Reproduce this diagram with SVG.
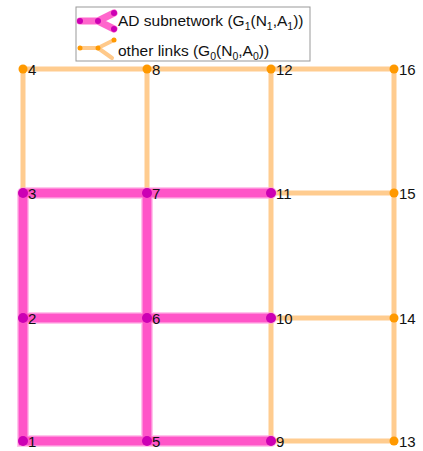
<svg xmlns="http://www.w3.org/2000/svg" width="423" height="451" viewBox="0 0 423 451">
<style>
.pk{stroke:#ff55c8;stroke-width:9;stroke-linecap:round;fill:none}
.pkh{stroke:#ff9ee0;stroke-width:12;stroke-linecap:round;fill:none;opacity:0.6}
.or{stroke:#ffcc8f;stroke-width:5;stroke-linecap:round;fill:none}
.pn{fill:#cc00b4}
.on{fill:#ff9900}
.lb{font-family:"Liberation Sans",Arial,sans-serif;font-size:15px;fill:#111}
.lg{font-family:"Liberation Sans",Arial,sans-serif;font-size:15.5px;fill:#111}
.sub{font-size:10.5px}
</style>
<rect width="423" height="451" fill="#fff"/>
<g id="connectors">
<g class="or">
<path d="M23 193V69H271M147 193V69M271 69H394V441H271V193M271 193H394M271 318H394M271 69V193"/>
</g>
<g class="pkh">
<path d="M23 193V441H271M147 193V441M23 193H271M23 318H271"/>
</g>
<g class="pk">
<path d="M23 193V441H271M147 193V441M23 193H271M23 318H271"/>
</g>
</g>
<g id="legend">
<rect x="76" y="7" width="234" height="54" fill="#fff" stroke="#999" stroke-width="1"/>
<path d="M80 21H98L114 13M98 21L114 29" stroke="#ff66cc" stroke-width="7" stroke-linecap="round" stroke-linejoin="round" fill="none"/>
<circle cx="80" cy="21" r="3" class="pn"/><circle cx="98" cy="21" r="3" class="pn"/><circle cx="114" cy="13" r="3" class="pn"/><circle cx="114" cy="29" r="3" class="pn"/>
<path d="M80 48H98L114 40M98 48L112 58" stroke="#ffc98a" stroke-width="4" stroke-linecap="round" stroke-linejoin="round" fill="none"/>
<circle cx="80" cy="48" r="2.5" class="on"/><circle cx="98" cy="48" r="2.5" class="on"/><circle cx="114" cy="40" r="2.5" class="on"/>
<text class="lg" x="118" y="26">AD subnetwork (G<tspan class="sub" dy="4">1</tspan><tspan dy="-4">(N</tspan><tspan class="sub" dy="4">1</tspan><tspan dy="-4">,A</tspan><tspan class="sub" dy="4">1</tspan><tspan dy="-4">))</tspan></text>
<text class="lg" x="118" y="56">other links (G<tspan class="sub" dy="4">0</tspan><tspan dy="-4">(N</tspan><tspan class="sub" dy="4">0</tspan><tspan dy="-4">,A</tspan><tspan class="sub" dy="4">0</tspan><tspan dy="-4">))</tspan></text>
</g>
<g id="n1"><circle cx="23" cy="441" r="5" class="pn"/><text class="lb" x="28" y="447">1</text></g>
<g id="n2"><circle cx="23" cy="318" r="5" class="pn"/><text class="lb" x="28" y="324">2</text></g>
<g id="n3"><circle cx="23" cy="193" r="5" class="pn"/><text class="lb" x="28" y="199">3</text></g>
<g id="n4"><circle cx="23" cy="69" r="4.5" class="on"/><text class="lb" x="28" y="75">4</text></g>
<g id="n5"><circle cx="147" cy="441" r="5" class="pn"/><text class="lb" x="152" y="447">5</text></g>
<g id="n6"><circle cx="147" cy="318" r="5" class="pn"/><text class="lb" x="152" y="324">6</text></g>
<g id="n7"><circle cx="147" cy="193" r="5" class="pn"/><text class="lb" x="152" y="199">7</text></g>
<g id="n8"><circle cx="147" cy="69" r="4.5" class="on"/><text class="lb" x="152" y="75">8</text></g>
<g id="n9"><circle cx="271" cy="441" r="5" class="pn"/><text class="lb" x="276" y="447">9</text></g>
<g id="n10"><circle cx="271" cy="318" r="5" class="pn"/><text class="lb" x="276" y="324">10</text></g>
<g id="n11"><circle cx="271" cy="193" r="5" class="pn"/><text class="lb" x="276" y="199">11</text></g>
<g id="n12"><circle cx="271" cy="69" r="4.5" class="on"/><text class="lb" x="276" y="75">12</text></g>
<g id="n13"><circle cx="394" cy="441" r="4.5" class="on"/><text class="lb" x="399" y="447">13</text></g>
<g id="n14"><circle cx="394" cy="318" r="4.5" class="on"/><text class="lb" x="399" y="324">14</text></g>
<g id="n15"><circle cx="394" cy="193" r="4.5" class="on"/><text class="lb" x="399" y="199">15</text></g>
<g id="n16"><circle cx="394" cy="69" r="4.5" class="on"/><text class="lb" x="399" y="75">16</text></g>
</svg>
